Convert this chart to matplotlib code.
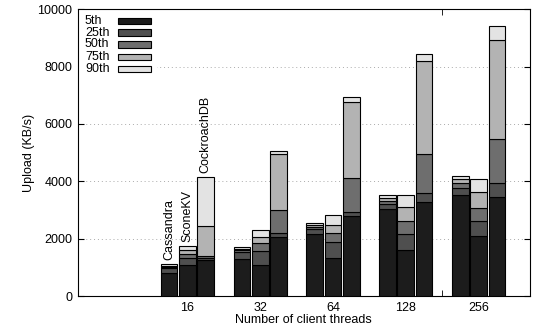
import matplotlib
matplotlib.use("Agg")
import matplotlib.pyplot as plt
from matplotlib.patches import Rectangle
import numpy as np

plt.rcParams["font.family"] = ["Liberation Sans", "DejaVu Sans"]
plt.rcParams["font.size"] = 9

threads = ["16", "32", "64", "128", "256"]
systems = ["Cassandra", "SconeKV", "CockroachDB"]
pct_names = ["5th", "25th", "50th", "75th", "90th"]
pct_colors = ["#1c1c1c", "#4f4f4f", "#6e6e6e", "#b3b3b3", "#e3e3e3"]

# percentile values (KB/s), per thread count: [5th, 25th, 50th, 75th, 90th]
cassandra = [
    [810, 960, 1000, 1050, 1115],
    [1279, 1544, 1600, 1638, 1718],
    [2150, 2330, 2390, 2460, 2532],
    [3042, 3205, 3300, 3400, 3530],
    [3519, 3752, 3927, 4066, 4200],
]
sconekv = [
    [1080, 1335, 1452, 1603, 1742],
    [1080, 1579, 1835, 2045, 2300],
    [1314, 1871, 2184, 2485, 2811],
    [1603, 2160, 2613, 3113, 3519],
    [2091, 2613, 3078, 3612, 4066],
]
cockroach = [
    [1254, 1335, 1394, 2439, 4135],
    [2045, 2184, 2997, 4936, 5063],
    [2787, 2937, 4100, 6748, 6945],
    [3286, 3577, 4948, 8188, 8420],
    [3460, 3927, 5460, 8920, 9408],
]

fig = plt.figure(figsize=(5.34, 3.26), dpi=100)
ax = fig.add_axes([0.146, 0.092, 0.846, 0.88])

x = np.arange(1, len(threads) + 1)
width = 0.23
offsets = [-0.25, 0.0, 0.25]

for data, off in zip([cassandra, sconekv, cockroach], offsets):
    data = np.array(data)
    for k in range(len(pct_names)):
        bottom = data[:, k - 1] if k > 0 else np.zeros(len(x))
        ax.bar(x + off, data[:, k] - bottom, width, bottom=bottom,
               color=pct_colors[k], edgecolor="black", linewidth=0.8, zorder=3)

# system names over the first group
for data, off, name in zip([cassandra, sconekv, cockroach], offsets, systems):
    ax.text(1 + off, data[0][-1] + 150, name, rotation=90,
            ha="center", va="bottom", fontsize=9)

ax.set_xlim(-0.5, 5.7)
ax.set_ylim(0, 10000)
ax.set_yticks(range(0, 10001, 2000))
ax.set_xticks(x)
ax.set_xticklabels(threads)
ax.tick_params(axis="x", length=0, pad=4)
ax.tick_params(axis="y", direction="in", length=4, right=True, pad=4)
ax.set_xticks([4.5], minor=True)
ax.tick_params(axis="x", which="minor", direction="in", length=4, top=True)

ax.yaxis.grid(True, linestyle=(0, (1, 3)), color="#aaaaaa", linewidth=0.7, zorder=0)
ax.set_axisbelow(True)

ax.set_ylabel("Upload (KB/s)", labelpad=2)
ax.set_xlabel("Number of client threads", labelpad=0)

# key box, gnuplot style: label on the left, sample on the right
ax.add_patch(Rectangle((0, 0.77), 0.175, 0.23, transform=ax.transAxes,
                       facecolor="white", edgecolor="none", zorder=1))
rows = [0.958, 0.918, 0.877, 0.834, 0.792]
for name, col, yy in zip(pct_names, pct_colors, rows):
    ax.text(0.0155, yy, name, transform=ax.transAxes, ha="left", va="center",
            fontsize=9, zorder=4)
    ax.add_patch(Rectangle((0.0885, yy - 0.011), 0.073, 0.022, transform=ax.transAxes,
                           facecolor=col, edgecolor="black", linewidth=0.8, zorder=4))

fig.savefig("out.png", dpi=100)
